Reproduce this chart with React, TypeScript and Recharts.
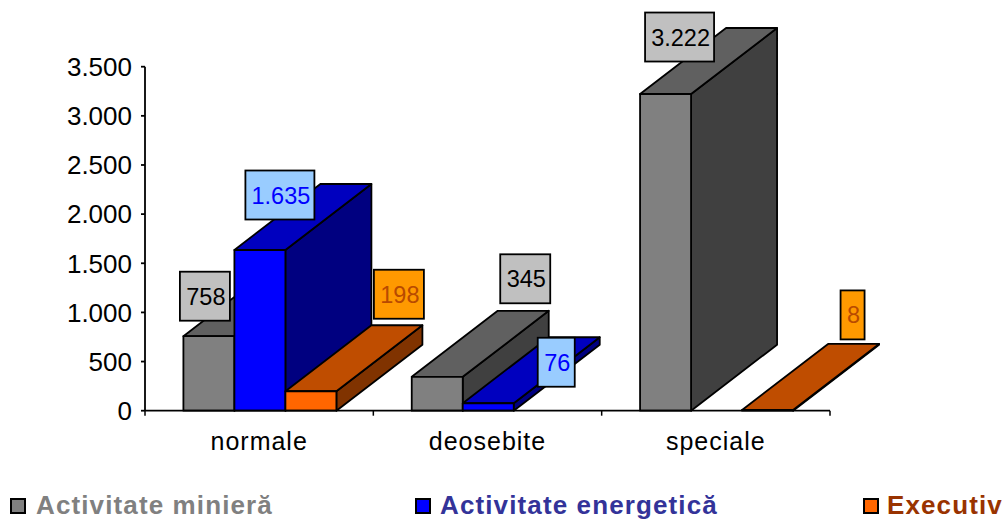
import { BarChart, Bar, XAxis, YAxis, Legend, LabelList } from 'recharts';

const categories = ['normale', 'deosebite', 'speciale'];
const minier = [758, 345, 3222];
const energetic = [1635, 76, null];
const executiv = [198, null, 8];
const yTicks = [0, 500, 1000, 1500, 2000, 2500, 3000, 3500];

const data = categories.map((name, i) => ({
  name,
  minier: minier[i],
  energetic: energetic[i],
  executiv: executiv[i],
}));

const WIDTH = 1005;
const HEIGHT = 520;
const DEPTH_X = 86;
const DEPTH_Y = 66;
const BAND = 685 / 3;
const FONT = '"Liberation Sans", Arial, sans-serif';

// nudge is where the value box sits relative to its bar, one per category
const series = [
  { key: 'minier', name: 'Activitate minieră', values: minier, front: '#808080', top: '#606060', side: '#404040', labelFill: '#C0C0C0', labelText: '#000000', legendText: '#808080', legendX: 10, textX: 36, nudge: [[-3.5, -15.5], [88.5, -73.5], [14.5, -32.5]] },
  { key: 'energetic', name: 'Activitate energetică', values: energetic, front: '#0000FF', top: '#0000BF', side: '#000080', labelFill: '#99CCFF', labelText: '#0000FF', legendText: '#333399', legendX: 415, textX: 440, nudge: [[20.5, -30.5], [68.5, -16.5], [0, 0]] },
  { key: 'executiv', name: 'Executiv', values: executiv, front: '#FF6600', top: '#BF4D00', side: '#803300', labelFill: '#FF9900', labelText: '#B84A00', legendText: '#993300', legendX: 863, textX: 887, nudge: [[88.5, -72.5], [0, 0], [85.5, -70.5]] },
];

const fmt = (v: number) => String(v).replace(/\B(?=(\d{3})+$)/g, '.');

function box3d(s: any) {
  return (props: any) => {
    const { x: x0, y, width: w, height: h } = props;
    if (h == null || w == null) return <g />;
    const x = x0 + 0.5;
    const line = { stroke: '#000', strokeWidth: 1.8, strokeLinejoin: 'round' as const };
    return (
      <g>
        <polygon points={`${x + w},${y} ${x + w + DEPTH_X},${y - DEPTH_Y} ${x + w + DEPTH_X},${y + h - DEPTH_Y} ${x + w},${y + h}`} fill={s.side} {...line} />
        <polygon points={`${x},${y} ${x + DEPTH_X},${y - DEPTH_Y} ${x + w + DEPTH_X},${y - DEPTH_Y} ${x + w},${y}`} fill={s.top} {...line} />
        <rect x={x} y={y} width={w} height={h} fill={s.front} {...line} />
      </g>
    );
  };
}

function valueBox(s: any) {
  return (props: any) => {
    const { x, y, width: w, value } = props;
    if (value == null) return null;
    // LabelList skips null rows, so its index cannot be trusted here
    const nudge = s.nudge[s.values.indexOf(value)];
    const text = fmt(value);
    const boxW = text.length === 1 ? 24 : text.length === 2 ? 37 : text.length === 3 ? 50 : 69;
    const cx = x + w / 2 + nudge[0];
    const bottom = y + nudge[1];
    return (
      <g>
        <rect x={cx - boxW / 2} y={bottom - 49} width={boxW} height={49} fill={s.labelFill} stroke="#000" strokeWidth={1.8} />
        <text x={cx + 1} y={bottom - 16} textAnchor="middle" fontFamily={FONT} fontSize={23.5} fill={s.labelText}>{text}</text>
      </g>
    );
  };
}

function CategoryTick(props: any) {
  const { x, y, payload, index } = props;
  const left = x - BAND / 2;
  return (
    <g>
      <line x1={left} x2={left} y1={y} y2={y + 5} stroke="#000" strokeWidth={1.5} />
      {index === categories.length - 1 && (
        <line x1={x + BAND / 2} x2={x + BAND / 2} y1={y} y2={y + 5} stroke="#000" strokeWidth={1.5} />
      )}
      <text x={x} y={y + 39} textAnchor="middle" fontFamily={FONT} fontSize={25} letterSpacing={1} fill="#000">{payload.value}</text>
    </g>
  );
}

function LegendRow() {
  return (
    <div style={{ position: 'relative', width: WIDTH, height: 60, overflow: 'hidden' }}>
      {series.map((s) => (
        <div key={s.key}>
          <div style={{ position: 'absolute', left: s.legendX, top: 38, width: 12, height: 12, background: s.front, border: '2.5px solid #000' }} />
          <div style={{ position: 'absolute', left: s.textX, top: 29, whiteSpace: 'nowrap', fontFamily: FONT, fontWeight: 700, fontSize: 26, letterSpacing: 1.12, lineHeight: '32px', color: s.legendText }}>{s.name}</div>
        </div>
      ))}
    </div>
  );
}

export default function App() {
  return (
    <div style={{ position: 'absolute', left: 0, top: 0, width: WIDTH, height: HEIGHT, overflow: 'hidden', background: '#fff' }}>
      <BarChart
        width={WIDTH}
        height={HEIGHT}
        data={data}
        margin={{ top: 66.7, right: 175, left: 0, bottom: 0 }}
        barCategoryGap="16.6%"
        barGap={0}
      >
        <XAxis dataKey="name" height={49.3} stroke="#000" strokeWidth={1.8} tickLine={false} tickSize={0} tickMargin={0} interval={0} tick={CategoryTick} />
        <YAxis
          width={145}
          domain={[0, 3500]}
          ticks={yTicks}
          interval={0}
          stroke="#000"
          strokeWidth={1.8}
          tickSize={4}
          tickMargin={9}
          tickFormatter={fmt}
          tick={{ fill: '#000', fontSize: 26, fontFamily: FONT }}
        />
        <Legend verticalAlign="bottom" height={60} wrapperStyle={{ left: 0, width: WIDTH }} content={LegendRow} />
        {series.map((s) => (
          <Bar key={s.key} dataKey={s.key} name={s.name} fill={s.front} shape={box3d(s)} isAnimationActive={false}>
            <LabelList dataKey={s.key} content={valueBox(s)} />
          </Bar>
        ))}
      </BarChart>
    </div>
  );
}
